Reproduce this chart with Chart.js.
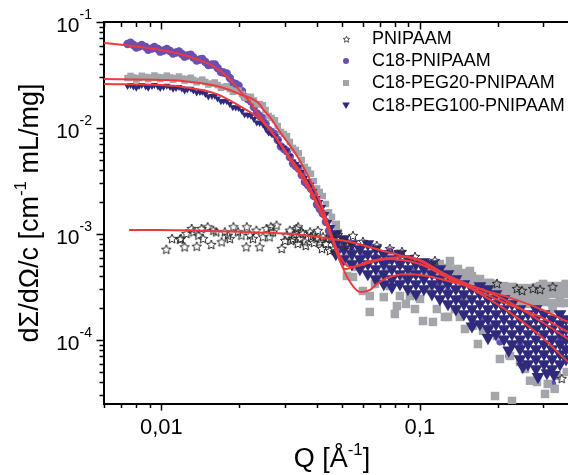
<!DOCTYPE html>
<html><head><meta charset="utf-8">
<script src="https://cdn.jsdelivr.net/npm/chart.js@4/dist/chart.umd.min.js"></script>
<style>html,body{margin:0;padding:0;background:#fff;overflow:hidden}</style>
</head><body>
<canvas id="c" width="568" height="475"></canvas>
<script>
// ---------- axis / label data ----------
const xTickValues = [0.01, 0.1];
const xTickLabels = ['0,01', '0,1'];
const yTickValues = [0.1, 0.01, 0.001, 0.0001];
const yTickExponents = ['-1', '-2', '-3', '-4'];
const seriesNames = ['PNIPAAM', 'C18-PNIPAAM', 'C18-PEG20-PNIPAAM', 'C18-PEG100-PNIPAAM'];
const xTitle = ['Q [Å', '-1', ']'];
const yTitle = ['dΣ/dΩ/c [cm', '-1', ' mL/mg]'];

// ---------- data: low-Q grids ----------
const qLow = [0.0074, 0.0078, 0.0082, 0.0087, 0.0092, 0.0097, 0.0102, 0.0108, 0.0114, 0.0120, 0.0126, 0.0133, 0.0141, 0.0148, 0.0157, 0.0165, 0.0174, 0.0184, 0.0194, 0.0205, 0.0216, 0.0228, 0.0240, 0.0253, 0.0267, 0.0282, 0.0298, 0.0314, 0.0331, 0.0349, 0.0369, 0.0389, 0.0410, 0.0433, 0.0457];
const qMid = [0.0076, 0.0080, 0.0084, 0.0089, 0.0094, 0.0099, 0.0105, 0.0111, 0.0117, 0.0123, 0.0130, 0.0137, 0.0144, 0.0152, 0.0161, 0.0170, 0.0179, 0.0189, 0.0199, 0.0210, 0.0222, 0.0234, 0.0247, 0.0260, 0.0275, 0.0290, 0.0306, 0.0323, 0.0340, 0.0359, 0.0379, 0.0400, 0.0421, 0.0445];

const c18Low = [0.0620, 0.0607, 0.0587, 0.0581, 0.0562, 0.0556, 0.0538, 0.0532, 0.0516, 0.0499, 0.0483, 0.0462, 0.0443, 0.0419, 0.0397, 0.0368, 0.0334, 0.0296, 0.0260, 0.0223, 0.0188, 0.0158, 0.01298, 0.01091, 0.00917, 0.00770, 0.00633, 0.00532, 0.00438, 0.00360, 0.00290, 0.00228, 0.00172, 0.00130, 0.000957];
const c18Mid = [0.0638, 0.0573, 0.0607, 0.0548, 0.0581, 0.0525, 0.0556, 0.0503, 0.0528, 0.0471, 0.0491, 0.0434, 0.0448, 0.0392, 0.0398, 0.0337, 0.0327, 0.0266, 0.0250, 0.0196, 0.0179, 0.01375, 0.01238, 0.0096, 0.00874, 0.00670, 0.00603, 0.00463, 0.00413, 0.00310, 0.00267, 0.00190, 0.00156, 0.00107];

const peg20Low = [0.0296, 0.0300, 0.0296, 0.0303, 0.0300, 0.0303, 0.0300, 0.0300, 0.0296, 0.0293, 0.0290, 0.0284, 0.0278, 0.0272, 0.0263, 0.0254, 0.0244, 0.0233, 0.0223, 0.0209, 0.0196, 0.0182, 0.0168, 0.01479, 0.01243, 0.01044, 0.00878, 0.00738, 0.00620, 0.00499, 0.00402, 0.00316, 0.00249, 0.00192, 0.00145];
const peg20Mid = [0.0310, 0.0286, 0.0311, 0.0289, 0.0313, 0.0289, 0.0312, 0.0286, 0.0306, 0.0280, 0.0298, 0.0270, 0.0286, 0.0257, 0.0269, 0.0239, 0.0248, 0.0219, 0.0225, 0.0194, 0.0197, 0.0168, 0.0164, 0.0130, 0.01185, 0.00919, 0.00837, 0.00649, 0.00578, 0.00430, 0.00370, 0.00269, 0.00228, 0.00160];

const peg100Low = [0.0249, 0.0246, 0.0249, 0.0246, 0.0249, 0.0246, 0.0244, 0.0244, 0.0238, 0.0236, 0.0231, 0.0226, 0.0219, 0.0209, 0.0200, 0.0190, 0.0180, 0.0168, 0.0156, 0.01446, 0.01327, 0.01216, 0.01114, 0.0100, 0.00878, 0.00754, 0.00648, 0.00544, 0.00457, 0.00385, 0.00316, 0.00254, 0.00200, 0.00154, 0.001164];
const peg100Mid = [0.0255, 0.0240, 0.0255, 0.0240, 0.0255, 0.0238, 0.0251, 0.0234, 0.0244, 0.0226, 0.0235, 0.0216, 0.0220, 0.0198, 0.0201, 0.0179, 0.0179, 0.0157, 0.01547, 0.01343, 0.01308, 0.01129, 0.01087, 0.00909, 0.00838, 0.00678, 0.00612, 0.00484, 0.00432, 0.00339, 0.00291, 0.00218, 0.00180, 0.00130];

// ---------- data: PNIPAAM (stars) ----------
const pnipaamQ = [0.01045,0.0110,0.0118,0.0119,0.0123,0.0125,0.0131,0.0133,0.0137,0.0139,
 0.0143,0.0145,0.0151,0.0156,0.0159,0.0163,0.0171,0.0176,0.0181,0.0184,
 0.0190,0.0198,0.0204,0.0213,0.0214,0.0220,0.0226,0.0233,0.0240,0.0247,
 0.0255,0.0262,0.0265,0.0270,0.0279,0.0292,0.0301,0.0305,0.0314,0.0318,
 0.0323,0.0326,0.0333,0.0337,0.0338,0.0343,0.0349,0.0353,0.0359,0.0362,
 0.0376,0.0379,0.0386,0.0389,0.0398,0.0403,0.0410,0.0418,0.0422,0.0433,
 0.0436,0.0449,0.0452,0.0465,0.0482,0.0508,0.0526,0.0551,0.0602,0.0681,
 0.0765,0.0852,0.0957,0.1143,0.1987,0.2373,0.2483,0.2739,0.2915,0.3263,
 0.3535];
const pnipaamI = [7.11e-4,8.97e-4,8.84e-4,8.97e-4,7.49e-4,1.0e-3,1.115e-3,1.037e-3,7.59e-4,9.64e-4,
 1.115e-3,8.97e-4,1.157e-3,7.88e-4,1.074e-3,1.037e-3,8.35e-4,1.037e-3,9.64e-4,8.97e-4,
 1.157e-3,1.037e-3,9.64e-4,7.49e-4,1.157e-3,9.64e-4,8.97e-4,1.074e-3,7.49e-4,9.31e-4,
 1.115e-3,9.31e-4,1.157e-3,1.037e-3,1.198e-3,7.22e-4,8.6e-4,9.64e-4,1.074e-3,8.59e-4,
 8.97e-4,9.78e-4,1.115e-3,8.05e-4,1.157e-3,8.97e-4,1.04e-3,1.0e-3,8.35e-4,7.71e-4,
 1.037e-3,9.37e-4,9.64e-4,8.22e-4,8.97e-4,1.07e-3,8.35e-4,7.22e-4,9.31e-4,8.05e-4,
 8.97e-4,6.91e-4,8.97e-4,7.22e-4,9.78e-4,8.59e-4,7.71e-4,9.57e-4,8.41e-4,7.71e-4,
 7.22e-4,6.76e-4,6.07e-4,5.56e-4,3.38e-4,3.03e-4,2.90e-4,3.03e-4,2.97e-4,3.16e-4,
 4.29e-5];

// ---------- data: C18-PNIPAAM high Q ----------
const c18HighQ = [0.0490,0.0546,0.0607,0.0675,0.0751,0.0837,0.0932,0.1036,0.1153,0.1284,0.1428,0.1590,0.1754,0.1867,0.2040,0.2206,0.2439,0.2812,0.3263,0.3473,0.0765,0.0815];
const c18HighI = [7.54e-4,6.91e-4,6.34e-4,6.07e-4,5.56e-4,5.10e-4,4.48e-4,3.93e-4,3.30e-4,2.90e-4,2.44e-4,1.96e-4,1.58e-4,1.33e-4,9.57e-5,7.07e-5,9.16e-5,8.22e-5,3.85e-5,1.02e-4,6.91e-4,6.62e-4];

// ---------- data: C18-PEG20-PNIPAAM high Q (scattered) ----------
const peg20HighQ = [0.0473,0.0482,0.0499,0.0517,0.0536,0.0522,0.0551,0.0570,0.0602,0.0640,0.0640,0.0670,0.0700,0.0738,0.0765,0.0800,0.0815,0.0837,0.0867,0.0915,0.0948,0.1001,0.1028,0.1064,0.1093,0.1123,0.1163,0.1195,0.1250,0.1307,0.1367,0.1403,0.1467,0.1520,0.1561,0.1633,0.1707,0.1785,0.1818,0.1867,0.1918,0.1987,0.1987,0.2040,0.2134,0.2231,0.2231,0.2291,0.2395,0.2439,0.2550,0.2596,0.2739,0.2788,0.2838,0.2915,0.2994,0.3048,0.3122,0.3178,0.3263,0.3382,0.3412,0.3473,0.3599,0.3697,0.3664,0.1952,0.2271,0.1604,0.1754,0.2439,
 0.0725,0.0883,0.0957,0.1250,0.1494,0.1677,0.2040,0.2667,0.3322,0.3048,0.1428,0.1284];
const peg20HighI = [1.22e-3,1.02e-3,8.05e-4,6.48e-4,5.56e-4,4.02e-4,3.93e-4,4.88e-4,2.90e-4,2.60e-4,1.84e-4,3.38e-4,3.93e-4,4.68e-4,3.23e-4,1.76e-4,2.09e-4,2.60e-4,3.76e-4,2.60e-4,4.20e-4,2.44e-4,1.51e-4,4.68e-4,3.03e-4,1.48e-4,1.96e-4,5.21e-4,3.38e-4,5.56e-4,1.96e-4,4.68e-4,4.20e-4,2.44e-4,4.48e-4,3.76e-4,3.76e-4,1.27e-4,3.03e-4,3.45e-4,3.38e-4,1.09e-4,2.44e-4,3.03e-4,3.16e-4,7.07e-5,2.72e-4,3.16e-4,2.44e-4,3.03e-4,5.33e-5,2.72e-4,2.90e-4,2.19e-4,4.02e-5,3.23e-4,3.38e-4,2.44e-4,3.85e-5,2.90e-4,1.96e-4,4.58e-5,3.16e-4,2.44e-4,2.72e-4,4.99e-5,3.38e-4,2.96e-5,2.66e-5,1.36e-4,1.22e-4,6.2e-5,
 2.54e-4,2.19e-4,1.96e-4,1.65e-4,1.27e-4,9.16e-5,6.62e-5,4.13e-5,3.46e-5,3.10e-5,1.65e-4,1.65e-4];
// upper grey band, one column per Q
const peg20BandQ = [0.1036, 0.1113, 0.1195, 0.1284, 0.1378, 0.1480, 0.1590, 0.1707, 0.1834, 0.1969, 0.2115, 0.2271, 0.2439, 0.2619, 0.2812, 0.3021, 0.3244, 0.3484, 0.3675];
const peg20BandI = [
 [5.33e-4, 4.48e-4], [5.10e-4, 4.29e-4], [4.99e-4, 4.20e-4], [4.78e-4, 4.01e-4], [4.58e-4, 3.84e-4],
 [4.29e-4, 3.60e-4], [4.01e-4, 3.38e-4], [3.68e-4, 3.09e-4], [3.45e-4, 2.90e-4], [3.30e-4, 2.78e-4],
 [3.23e-4, 2.72e-4, 2.38e-4], [3.16e-4, 2.66e-4, 2.28e-4], [3.09e-4, 2.60e-4, 2.19e-4], [3.09e-4, 2.60e-4, 2.19e-4],
 [3.16e-4, 2.66e-4, 2.23e-4], [3.23e-4, 2.72e-4, 2.28e-4], [3.23e-4, 2.72e-4, 2.23e-4], [3.23e-4, 2.72e-4, 2.23e-4],
 [3.23e-4, 2.72e-4, 2.23e-4]];

// ---------- data: C18-PEG100-PNIPAAM high Q, one column per Q ----------
const peg100ColQ = [0.0473, 0.0508, 0.0546, 0.0586, 0.0629, 0.0675, 0.0725, 0.0779, 0.0837, 0.0899, 0.0965, 0.1036, 0.1113, 0.1195, 0.1284, 0.1378, 0.1480, 0.1590, 0.1707, 0.1834, 0.1969, 0.2115, 0.2271, 0.2439, 0.2619, 0.2812, 0.3021, 0.3244, 0.3484, 0.3675];
const peg100ColI = [
 [1.0e-3, 8.05e-4, 6.48e-4], [8.97e-4, 7.22e-4, 5.81e-4], [8.05e-4, 6.48e-4, 5.21e-4], [7.22e-4, 5.81e-4, 4.68e-4],
 [8.05e-4, 6.48e-4, 5.21e-4, 4.20e-4], [7.22e-4, 5.81e-4, 4.68e-4, 3.76e-4], [6.48e-4, 5.21e-4, 4.20e-4, 3.38e-4],
 [5.81e-4, 4.68e-4, 3.76e-4, 3.16e-4], [6.48e-4, 5.21e-4, 4.20e-4, 3.38e-4], [5.81e-4, 4.68e-4, 3.76e-4, 3.03e-4],
 [5.21e-4, 4.20e-4, 3.38e-4, 2.72e-4], [5.44e-4, 4.68e-4, 3.76e-4, 3.03e-4], [5.21e-4, 4.20e-4, 3.38e-4, 2.72e-4],
 [4.68e-4, 3.76e-4, 3.03e-4, 2.44e-4], [4.20e-4, 3.38e-4, 2.72e-4, 2.19e-4], [3.76e-4, 3.03e-4, 2.44e-4, 1.96e-4],
 [3.38e-4, 2.72e-4, 2.19e-4, 1.76e-4], [3.03e-4, 2.44e-4, 1.96e-4, 1.58e-4], [3.23e-4, 2.72e-4, 2.19e-4, 1.76e-4, 1.42e-4],
 [3.03e-4, 2.44e-4, 1.96e-4, 1.58e-4, 1.27e-4], [2.72e-4, 2.19e-4, 1.76e-4, 1.42e-4, 1.14e-4],
 [2.44e-4, 1.96e-4, 1.58e-4, 1.27e-4, 1.02e-4], [2.19e-4, 1.76e-4, 1.42e-4, 1.14e-4, 9.16e-5],
 [1.96e-4, 1.58e-4, 1.27e-4, 1.02e-4, 8.22e-5, 6.62e-5], [1.76e-4, 1.42e-4, 1.14e-4, 9.16e-5, 7.38e-5, 5.94e-5],
 [1.96e-4, 1.58e-4, 1.27e-4, 1.02e-4, 8.22e-5, 6.62e-5, 5.33e-5], [1.76e-4, 1.42e-4, 1.14e-4, 9.16e-5, 7.38e-5, 5.94e-5],
 [1.58e-4, 1.27e-4, 1.02e-4, 8.22e-5, 6.62e-5, 5.33e-5], [1.76e-4, 1.42e-4, 1.14e-4, 9.16e-5, 7.38e-5, 5.94e-5],
 [1.58e-4, 1.27e-4, 1.02e-4, 8.22e-5, 6.62e-5]];
const peg100OutQ = [0.1834, 0.2206, 0.2863, 0.3302, 0.1590, 0.2500, 0.3100];
const peg100OutI = [1.05e-4, 8.0e-5, 4.5e-5, 4.7e-5, 1.35e-4, 5.6e-5, 4.9e-5];

// ---------- fitted curves ----------
const fitPnipaamQ = [0.0075, 0.01, 0.015, 0.02, 0.025, 0.03, 0.035, 0.04, 0.0455, 0.0537, 0.0747, 0.1001, 0.12, 0.1713, 0.218, 0.2927, 0.374];
const fitPnipaamI = [0.00109, 0.00109, 0.00107, 0.00105, 0.00103, 0.00101, 0.00098, 0.00094, 0.00090, 0.00084, 0.000676, 0.000556, 0.00044, 0.000303, 0.000255, 0.000196, 0.000148];
const fitC18Q = [0.006, 0.0074, 0.01, 0.012, 0.014, 0.016, 0.018, 0.020, 0.022, 0.0234, 0.0251, 0.0270, 0.0314, 0.0366, 0.0411, 0.0449, 0.0491, 0.0537, 0.0587, 0.0642, 0.0689, 0.0788, 0.0893, 0.1067, 0.1287, 0.1433, 0.1713, 0.218, 0.2927, 0.374];
const fitC18I = [0.0634, 0.0600, 0.0544, 0.0494, 0.0438, 0.0380, 0.0305, 0.0228, 0.0176, 0.01416, 0.01114, 0.00897, 0.00532, 0.00310, 0.00172, 0.001044, 0.000556, 0.000352, 0.000284, 0.000297, 0.000345, 0.000401, 0.000419, 0.000401, 0.000360, 0.000338, 0.000303, 0.000233, 0.000151, 0.000102];
const fitPeg20Q = [0.006, 0.01, 0.0121, 0.0164, 0.0201, 0.0240, 0.0247, 0.0263, 0.0288, 0.0335, 0.0386, 0.0422, 0.0461, 0.0504, 0.0537, 0.0614, 0.0747, 0.1001, 0.1287, 0.1713, 0.218, 0.2927, 0.374];
const fitPeg20I = [0.0290, 0.0284, 0.0278, 0.0249, 0.0209, 0.0168, 0.0151, 0.0127, 0.00917, 0.00544, 0.00284, 0.00172, 0.000897, 0.000556, 0.000488, 0.000521, 0.000581, 0.000521, 0.000384, 0.000284, 0.000219, 0.000165, 0.000119];
const fitPeg100Q = [0.006, 0.01, 0.0121, 0.0164, 0.0201, 0.0240, 0.0270, 0.0314, 0.0366, 0.0411, 0.0449, 0.0491, 0.0513, 0.0642, 0.0893, 0.1287, 0.1713, 0.218, 0.2927, 0.374];
const fitPeg100I = [0.0260, 0.0254, 0.0244, 0.0209, 0.0161, 0.01216, 0.00878, 0.00510, 0.00284, 0.00165, 0.00100, 0.000556, 0.000467, 0.000556, 0.000607, 0.000401, 0.000272, 0.000188, 0.000109, 0.000062];

// ---------- styling ----------
const X_MIN = 0.006, X_MAX = 0.374, Y_MIN = 2.49e-5, Y_MAX = 0.1;
const FONT = '"Liberation Sans", Arial, Helvetica, sans-serif';
const RED = '#ee3a3c', PURPLE = '#6a4fb2', GRAY = '#a3a5ab', NAVY = '#2f2a7c', STAR = '#2a2a2a';

function pts(qs, vs) { return qs.map((q, i) => ({ x: q, y: vs[i] })); }
function colPts(qs, cols) { const out = []; qs.forEach((q, i) => cols[i].forEach(v => out.push({ x: q, y: v }))); return out; }
function makeStar(R, lw) {
  const s = Math.ceil(2 * R + 2 * lw + 2);
  const cv = document.createElement('canvas'); cv.width = s; cv.height = s;
  const g = cv.getContext('2d');
  g.strokeStyle = STAR; g.lineWidth = lw; g.lineJoin = 'miter';
  g.beginPath();
  for (let k = 0; k < 10; k++) {
    const r = k % 2 === 0 ? R : R * 0.45;
    const a = -Math.PI / 2 + k * Math.PI / 5;
    const px = s / 2 + r * Math.cos(a), py = s / 2 + r * Math.sin(a);
    if (k === 0) g.moveTo(px, py); else g.lineTo(px, py);
  }
  g.closePath(); g.stroke();
  return cv;
}
const starData = makeStar(5.0, 1.0);
const starLegend = makeStar(3.4, 0.8);

function fitSet(label, q, v) {
  return { label, data: pts(q, v), showLine: true, borderColor: RED, borderWidth: 2, pointRadius: 0,
    cubicInterpolationMode: 'monotone', order: 0 };
}
const isLow = c => c.raw && c.raw.x < 0.046;

const datasets = [
  fitSet('fit ' + seriesNames[0], fitPnipaamQ, fitPnipaamI),
  fitSet('fit ' + seriesNames[1], fitC18Q, fitC18I),
  fitSet('fit ' + seriesNames[2], fitPeg20Q, fitPeg20I),
  fitSet('fit ' + seriesNames[3], fitPeg100Q, fitPeg100I),
  { label: seriesNames[0], data: pts(pnipaamQ, pnipaamI),
    pointStyle: starData, pointRadius: 4, pointBorderWidth: 0, order: 0.5 },
  { label: seriesNames[3],
    data: pts(qLow, peg100Low).concat(pts(qMid, peg100Mid), colPts(peg100ColQ, peg100ColI), pts(peg100OutQ, peg100OutI)),
    pointStyle: 'triangle', pointRotation: 180, pointBackgroundColor: NAVY, pointBorderWidth: 0,
    pointRadius: c => isLow(c) ? 4 : 7.4, order: 1 },
  { label: seriesNames[2],
    data: pts(qLow, peg20Low).concat(pts(qMid, peg20Mid), pts(peg20HighQ, peg20HighI), colPts(peg20BandQ, peg20BandI)),
    pointStyle: 'rect', pointBackgroundColor: GRAY, pointBorderWidth: 0,
    pointRadius: c => isLow(c) ? 4.6 : 6, order: 2 },
  { label: seriesNames[1],
    data: pts(qLow, c18Low).concat(pts(qMid, c18Mid), pts(c18HighQ, c18HighI)),
    pointStyle: 'circle', pointBackgroundColor: PURPLE, pointBorderWidth: 0,
    pointRadius: c => isLow(c) ? 4.2 : 3.6, order: 3 }
];

function drawRich(ctx, parts, x, y, align) {
  let w = 0;
  for (const p of parts) { ctx.font = p.size + 'px ' + FONT; w += ctx.measureText(p.t).width; }
  let cx = align === 'center' ? x - w / 2 : align === 'right' ? x - w : x;
  ctx.textAlign = 'left'; ctx.textBaseline = 'alphabetic';
  for (const p of parts) {
    ctx.font = p.size + 'px ' + FONT;
    ctx.fillText(p.t, cx, y + (p.dy || 0));
    cx += ctx.measureText(p.t).width;
  }
}

const decorPlugin = {
  id: 'decor',
  afterDraw(chart) {
    const { ctx, chartArea: a, scales } = chart;
    const xs = scales.x, ys = scales.y;
    ctx.save();
    ctx.strokeStyle = '#000'; ctx.fillStyle = '#000';
    ctx.lineWidth = 2;
    ctx.beginPath(); ctx.moveTo(a.left - 1, a.top); ctx.lineTo(a.right, a.top); ctx.stroke();
    ctx.lineWidth = 1.5;
    ctx.beginPath();
    for (const d of [0.001, 0.01, 0.1]) {
      for (let m = 1; m <= 9; m++) {
        const v = m * d;
        if (v < X_MIN * 0.999 || v > X_MAX) continue;
        const px = Math.round(xs.getPixelForValue(v)) + 0.5;
        const len = m === 1 ? 6.5 : 4;
        ctx.moveTo(px, a.bottom); ctx.lineTo(px, a.bottom + len);
        ctx.moveTo(px, a.top); ctx.lineTo(px, a.top + len + 1);
      }
    }
    for (const d of [1e-5, 1e-4, 1e-3, 1e-2, 1e-1]) {
      for (let m = 1; m <= 9; m++) {
        const v = m * d;
        if (v < Y_MIN || v > Y_MAX * 1.001) continue;
        const py = Math.round(ys.getPixelForValue(v)) + 0.5;
        const len = m === 1 ? 7.5 : 4.5;
        ctx.moveTo(a.left, py); ctx.lineTo(a.left - len, py);
      }
    }
    ctx.stroke();
    yTickValues.forEach((v, i) => {
      const py = ys.getPixelForValue(v);
      drawRich(ctx, [{ t: '10', size: 21 }, { t: yTickExponents[i], size: 14, dy: -13 }], 92, py + 10, 'right');
    });
    xTickValues.forEach((v, i) => {
      const px = xs.getPixelForValue(v);
      drawRich(ctx, [{ t: xTickLabels[i], size: 22 }], px, 434, 'center');
    });
    drawRich(ctx, [{ t: xTitle[0], size: 27 }, { t: xTitle[1], size: 17, dy: -12 }, { t: xTitle[2], size: 27 }], 332, 467, 'center');
    ctx.save();
    ctx.translate(38, 213); ctx.rotate(-Math.PI / 2);
    drawRich(ctx, [{ t: yTitle[0], size: 27 }, { t: yTitle[1], size: 17, dy: -12 }, { t: yTitle[2], size: 27 }], 0, 0, 'center');
    ctx.restore();
    // legend
    const lx = 346, tx = 372, rows = [39, 61, 83, 105.5];
    ctx.drawImage(starLegend, Math.round(lx - starLegend.width / 2), Math.round(rows[0] - starLegend.height / 2));
    ctx.fillStyle = PURPLE; ctx.beginPath(); ctx.arc(lx, rows[1], 3, 0, Math.PI * 2); ctx.fill();
    ctx.fillStyle = GRAY; ctx.fillRect(lx - 3, rows[2] - 3, 6, 6);
    ctx.fillStyle = NAVY; ctx.beginPath();
    ctx.moveTo(lx - 3.8, rows[3] - 3); ctx.lineTo(lx + 3.8, rows[3] - 3); ctx.lineTo(lx, rows[3] + 3.6); ctx.closePath(); ctx.fill();
    ctx.fillStyle = '#000';
    seriesNames.forEach((n, i) => {
      ctx.font = '18px ' + FONT; ctx.textAlign = 'left'; ctx.textBaseline = 'middle';
      ctx.fillText(n, tx, rows[i] + 0.5);
    });
    ctx.restore();
  }
};

const noSize = s => { if (s.isHorizontal()) s.height = 0; else s.width = 0; };

new Chart(document.getElementById('c'), {
  type: 'scatter',
  data: { datasets },
  options: {
    responsive: false, animation: false, events: [],
    layout: { padding: { left: 104, right: 0, top: 22, bottom: 71 }, autoPadding: false },
    plugins: { legend: { display: false }, tooltip: { enabled: false } },
    scales: {
      x: { type: 'logarithmic', min: X_MIN, max: X_MAX, position: 'bottom',
        ticks: { display: false }, grid: { display: false, drawTicks: false },
        border: { display: true, color: '#000', width: 2 }, afterFit: noSize },
      y: { type: 'logarithmic', min: Y_MIN, max: Y_MAX, position: 'left',
        ticks: { display: false }, grid: { display: false, drawTicks: false },
        border: { display: true, color: '#000', width: 2 }, afterFit: noSize }
    }
  },
  plugins: [decorPlugin]
});
</script>
</body></html>
